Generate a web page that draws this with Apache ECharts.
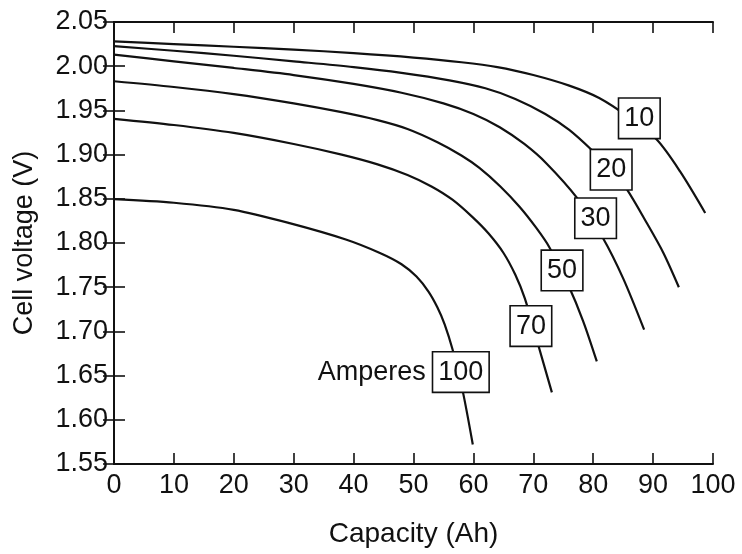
<!DOCTYPE html>
<html>
<head>
<meta charset="utf-8">
<script src="https://cdn.jsdelivr.net/npm/echarts@6/dist/echarts.min.js"></script>
<style>html,body{margin:0;padding:0;background:#fff}#c{width:742px;height:554px}</style>
</head>
<body>
<div id="c"></div>
<script>
// Discharge curves: [capacity (Ah), cell voltage (V)]
const curve10 = [[0,2.028],[10,2.025],[20,2.022],[30,2.0188],[40,2.0148],[50,2.0098],[58,2.0045],[64,1.999],[70,1.990],[76,1.978],[81,1.964],[86,1.942],[90.6,1.917],[94.5,1.881],[98.7,1.834]];
const curve20 = [[0,2.0226],[10,2.0175],[20,2.0118],[30,2.0055],[40,1.999],[48,1.9925],[56,1.984],[62,1.975],[67,1.963],[72,1.946],[76,1.928],[79.8,1.905],[83,1.883],[85.6,1.861],[89,1.822],[91.7,1.789],[94.3,1.750]];
const curve30 = [[0,2.013],[10,2.0055],[20,1.998],[30,1.990],[40,1.980],[48,1.970],[55,1.958],[60,1.946],[64.4,1.931],[68.5,1.912],[72.2,1.890],[77.3,1.851],[81.6,1.806],[85,1.760],[88.5,1.702]];
const curve50 = [[0,1.983],[10,1.9765],[20,1.9685],[30,1.958],[38,1.948],[44,1.939],[49,1.929],[54,1.914],[58,1.899],[61,1.885],[64.5,1.864],[67.7,1.841],[70.5,1.817],[72.7,1.795],[75.8,1.753],[78.3,1.712],[80.6,1.666]];
const curve70 = [[0,1.9405],[10,1.9335],[20,1.9245],[30,1.912],[38,1.900],[44,1.889],[49,1.877],[53,1.864],[56.5,1.849],[59.9,1.829],[62.5,1.811],[65,1.789],[67,1.764],[68.6,1.737],[70.6,1.690],[73.1,1.631]];
const curve100 = [[0,1.8496],[10,1.8455],[20,1.8375],[29.3,1.8225],[38.7,1.804],[44.3,1.789],[48,1.776],[50.5,1.762],[52.5,1.745],[54,1.727],[55.2,1.708],[56.5,1.680],[58.2,1.633],[59.9,1.572]];

const currentLabels = ['10','20','30','50','70','100'];
const labelCapacity = [87.7, 83.0, 80.4, 74.8, 69.6, 57.9];
const labelVoltage  = [1.941, 1.883, 1.828, 1.769, 1.706, 1.654];
const unitLabel = 'Amperes';

const xTicks = [0,10,20,30,40,50,60,70,80,90,100];
const yTicks = [1.55,1.60,1.65,1.70,1.75,1.80,1.85,1.90,1.95,2.00,2.05];

const FONT = "'Liberation Sans', Arial, Helvetica, sans-serif";
const INK = '#111111';

const chart = echarts.init(document.getElementById('c'), null, {renderer:'canvas'});

const curves = [curve10, curve20, curve30, curve50, curve70, curve100];
const lineSeries = curves.map((d, i) => ({
  type: 'line',
  name: currentLabels[i],
  data: d,
  showSymbol: false,
  symbol: 'none',
  smooth: 0.3,
  lineStyle: {color: INK, width: 2.2, opacity: 1},
  z: 2,
  silent: true
}));

const boxData = currentLabels.map((t, i) => ({value: [labelCapacity[i], labelVoltage[i]], name: t}));

const axisCommon = {
  axisLine: {show: true, lineStyle: {color: INK, width: 2}},
  axisTick: {show: true, inside: true, length: 11, lineStyle: {color: INK, width: 1.6}},
  splitLine: {show: false}
};

chart.setOption({
  animation: false,
  backgroundColor: '#fff',
  grid: {left: 114, right: 29, top: 22, bottom: 90, containLabel: false},
  xAxis: [
    Object.assign({
      type: 'value', min: xTicks[0], max: xTicks[xTicks.length-1], interval: 10, position: 'bottom',
      name: 'Capacity (Ah)', nameLocation: 'middle', nameGap: 56,
      nameTextStyle: {fontFamily: FONT, fontSize: 28, color: INK},
      axisLabel: {fontFamily: FONT, fontSize: 27, color: INK, margin: 8}
    }, axisCommon),
    Object.assign({
      type: 'value', min: xTicks[0], max: xTicks[xTicks.length-1], interval: 10, position: 'top',
      axisLabel: {show: false}
    }, axisCommon)
  ],
  yAxis: [
    Object.assign({
      type: 'value', min: yTicks[0], max: yTicks[yTicks.length-1], interval: 0.05, position: 'left',
      name: 'Cell voltage (V)', nameLocation: 'middle', nameGap: 76,
      nameTextStyle: {fontFamily: FONT, fontSize: 27, color: INK},
      axisLabel: {fontFamily: FONT, fontSize: 27, color: INK, margin: 6, formatter: v => v.toFixed(2)}
    }, axisCommon),
    Object.assign({
      type: 'value', min: yTicks[0], max: yTicks[yTicks.length-1], interval: 0.05, position: 'right',
      axisLabel: {show: false}
    }, axisCommon)
  ],
  series: lineSeries.concat([
    {
      type: 'scatter',
      data: boxData,
      symbolSize: 0,
      itemStyle: {color: INK, opacity: 1},
      z: 5,
      silent: true,
      label: {
        show: true, position: 'inside', formatter: p => p.name, opacity: 1,
        fontFamily: FONT, fontSize: 27, color: INK, lineHeight: 27,
        backgroundColor: '#fff', borderColor: INK, borderWidth: 1.6,
        padding: [7, 5, 5, 5]
      }
    },
    {
      type: 'scatter',
      data: [{value: [labelCapacity[5], labelVoltage[5]], name: unitLabel}],
      symbolSize: 0,
      itemStyle: {color: INK, opacity: 1},
      z: 5,
      silent: true,
      label: {
        show: true, position: 'left', distance: 35, formatter: p => p.name, opacity: 1,
        fontFamily: FONT, fontSize: 27, color: INK
      }
    }
  ])
});
</script>
</body>
</html>
